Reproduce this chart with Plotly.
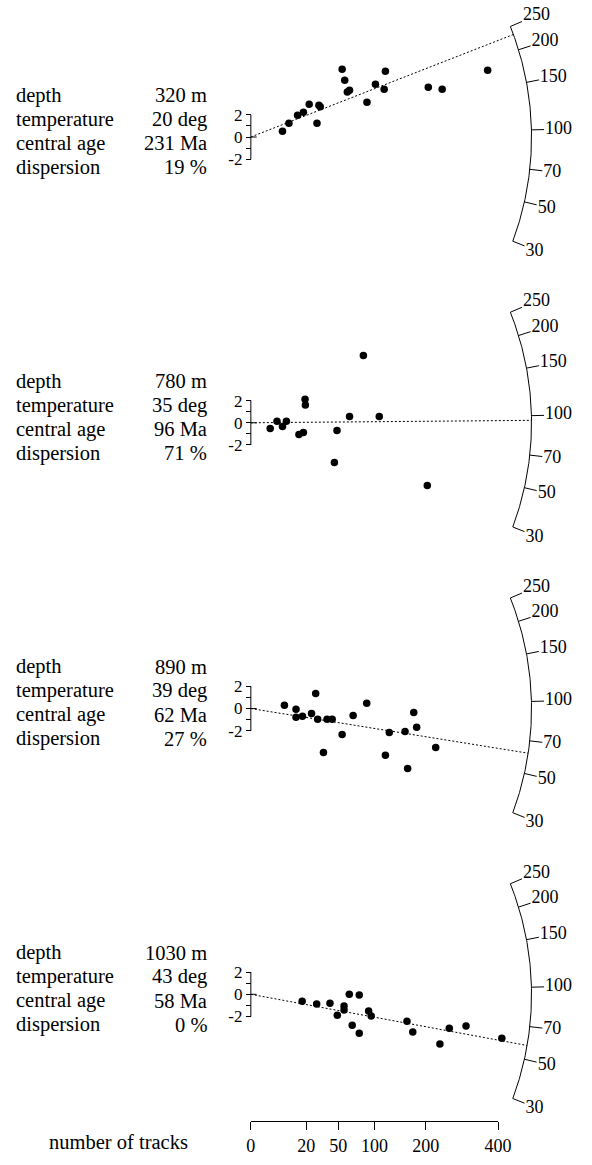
import numpy as np
import plotly.graph_objects as go

# sample summary (text block on the left of each panel)
depth = [320, 780, 890, 1030]
temperature = [20, 35, 39, 43]
central_age = [231, 96, 62, 58]
dispersion = [19, 71, 27, 0]

# single grains: precision (1/sigma) and standardised estimate
precision_1 = [5.12, 6.16, 7.56, 8.50, 9.44, 10.70, 11.01, 11.23, 14.77, 15.19,
               15.61, 15.97, 18.79, 20.16, 21.57, 21.77, 28.71, 30.96, 38.32]
z_1 = [0.51, 1.23, 1.95, 2.23, 2.95, 1.23, 2.86, 2.73, 6.10, 5.11,
       4.05, 4.21, 3.13, 4.75, 4.30, 5.92, 4.48, 4.30, 6.01]

precision_2 = [3.13, 4.23, 5.12, 5.75, 7.78, 8.50, 8.77, 8.82, 13.52, 13.94,
               15.97, 18.21, 20.78, 28.55]
z_2 = [-0.52, 0.14, -0.34, 0.14, -1.06, -0.88, 2.12, 1.60, -3.59, -0.70,
       0.56, 6.05, 0.56, -5.66]

precision_3 = [5.43, 7.31, 7.31, 8.35, 9.82, 10.49, 10.81, 11.75, 12.33, 13.16,
               14.77, 16.55, 18.75, 21.77, 22.40, 24.95, 25.37, 26.36, 26.83, 29.91]
z_3 = [0.30, -0.06, -0.78, -0.69, -0.45, 1.35, -0.96, -3.96, -0.96, -0.96,
       -2.34, -0.63, 0.48, -4.21, -2.16, -2.07, -5.41, -0.36, -1.68, -3.51]

precision_4 = [8.30, 10.65, 12.80, 13.99, 15.08, 15.08, 15.93, 16.40, 17.54, 17.54,
               19.06, 19.47, 25.26, 26.20, 30.59, 32.11, 34.82, 40.61]
z_4 = [-0.63, -0.87, -0.81, -1.89, -1.05, -1.41, 0.00, -2.79, -0.06, -3.51,
       -1.50, -1.95, -2.43, -3.40, -4.48, -3.06, -2.86, -3.96]

precision = [precision_1, precision_2, precision_3, precision_4]
z_values = [z_1, z_2, z_3, z_4]

age_ticks = [30, 50, 70, 100, 150, 200, 250]
track_ticks = [0, 20, 50, 100, 200, 400]
z_ticks = [-2, -1, 0, 1, 2]
z_ticktext = ["-2", "", "0", "", "2"]

# geometry
W, H = 592, 1165
X0_PX = 254          # pixel column of the radial origin
SX = 6.385           # px per precision unit
SY = 11.1            # px per z unit
PANEL_H = 285.77
ORIGIN_TOP = 137
R_ARC = 290
TICK_LEN = 13
LABEL_LIFT = 15
REF_AGE = 94
RATIO = 0.0043
FONT = "Liberation Serif, Times New Roman, Times, serif"


def z_of_age(t):
    return np.arctan(np.sqrt(RATIO * np.asarray(t, dtype=float)))


def arc_angle(t):
    return np.arctan(SY / SX * (z_of_age(t) - z_of_age(REF_AGE)))


def arc_xy(t, r):
    phi = arc_angle(t)
    return r * np.cos(phi) / SX, r * np.sin(phi) / SY


fig = go.Figure()
annotations = []
layout_axes = {}

arc_ages = np.geomspace(min(age_ticks), max(age_ticks), 120)
arc_x, arc_y = arc_xy(arc_ages, R_ARC)

tick_x, tick_y = [], []
for t in age_ticks:
    x1, y1 = arc_xy(t, R_ARC)
    x2, y2 = arc_xy(t, R_ARC + TICK_LEN)
    tick_x += [x1, x2, None]
    tick_y += [y1, y2, None]
phi_ticks = arc_angle(age_ticks)
lab_x = ((R_ARC + TICK_LEN) * np.cos(phi_ticks) + 1) / SX
lab_y = (R_ARC + TICK_LEN + LABEL_LIFT) * np.sin(phi_ticks) / SY

for i in range(4):
    ya = "y" if i == 0 else f"y{i + 1}"
    yname = "yaxis" if i == 0 else f"yaxis{i + 1}"
    common = dict(xaxis="x", yaxis=ya, showlegend=False, hoverinfo="skip")

    # arc and its ticks
    fig.add_trace(go.Scatter(x=arc_x, y=arc_y, mode="lines",
                             line=dict(color="black", width=1), **common))
    fig.add_trace(go.Scatter(x=tick_x, y=tick_y, mode="lines",
                             line=dict(color="black", width=1), **common))
    fig.add_trace(go.Scatter(x=lab_x, y=lab_y, mode="text",
                             text=[str(t) for t in age_ticks],
                             textposition="middle right",
                             textfont=dict(family=FONT, size=18, color="black"),
                             cliponaxis=False, **common))

    # central age line
    cx, cy = arc_xy(central_age[i], R_ARC)
    fig.add_trace(go.Scatter(x=[0, cx], y=[0, cy], mode="lines",
                             line=dict(color="black", width=1, dash="2px,2px"),
                             **common))

    # z-scale bracket (with the short zero mark to the right)
    fig.add_trace(go.Scatter(x=[0, 0, None, 0, 6 / SX],
                             y=[min(z_ticks), max(z_ticks), None, 0, 0], mode="lines",
                             line=dict(color="black", width=1), **common))

    # grains
    fig.add_trace(go.Scatter(x=precision[i], y=z_values[i], mode="markers",
                             marker=dict(color="black", size=7.5), **common))

    top = 1 - i * PANEL_H / H
    layout_axes[yname] = dict(
        domain=[top - PANEL_H / H, top],
        range=[-(PANEL_H - ORIGIN_TOP) / SY, ORIGIN_TOP / SY],
        anchor="free", position=X0_PX / W, side="left",
        tickvals=z_ticks, ticktext=z_ticktext, ticks="outside", ticklen=5,
        tickwidth=1, tickcolor="black",
        tickfont=dict(family=FONT, size=17, color="black"),
        showgrid=False, zeroline=False, showline=False,
    )

    rows = [("depth", f"{depth[i]} m"),
            ("temperature", f"{temperature[i]} deg"),
            ("central age", f"{central_age[i]} Ma"),
            ("dispersion", f"{dispersion[i]} %")]
    for k, (label, value) in enumerate(rows):
        shift = 41.7 - 24 * k
        annotations.append(dict(x=9.5 / W, xref="paper", y=0, yref=ya, yshift=shift,
                                text=label, showarrow=False, xanchor="left",
                                yanchor="middle",
                                font=dict(family=FONT, size=20.5, color="black")))
        annotations.append(dict(x=211 / W, xref="paper", y=0, yref=ya, yshift=shift,
                                text=value, showarrow=False, xanchor="right",
                                yanchor="middle",
                                font=dict(family=FONT, size=20.5, color="black")))

# number-of-tracks scale (precision = 2*sqrt(n))
track_x = [2 * np.sqrt(n) for n in track_ticks]
fig.add_trace(go.Scatter(x=[None], y=[None], xaxis="x5", yaxis="y5",
                         showlegend=False, hoverinfo="skip"))
layout_axes["xaxis5"] = dict(
    domain=[X0_PX / W, (X0_PX + SX * max(track_x)) / W],
    range=[0, max(track_x)], anchor="free", position=(H - 1120.7) / H,
    tickvals=track_x, ticktext=[str(n) for n in track_ticks],
    ticks="outside", ticklen=8.5, tickwidth=1, tickcolor="black",
    showline=True, linecolor="black", linewidth=1,
    tickfont=dict(family=FONT, size=18, color="black"),
    showgrid=False, zeroline=False,
)
layout_axes["yaxis5"] = dict(domain=[0, 0.03], anchor="x5", visible=False)
annotations.append(dict(x=43 / W, xref="paper", y=(H - 1141.7) / H, yref="paper",
                        text="number of tracks", showarrow=False, xanchor="left",
                        yanchor="middle",
                        font=dict(family=FONT, size=20.5, color="black")))

fig.update_layout(
    width=W, height=H,
    margin=dict(l=0, r=0, t=0, b=0),
    paper_bgcolor="white", plot_bgcolor="white",
    xaxis=dict(domain=[0, 1], range=[-X0_PX / SX, (W - X0_PX) / SX],
               visible=False, anchor="y"),
    annotations=annotations,
    **layout_axes,
)

fig.write_html(
    "out.html",
    config={"displayModeBar": False},
    post_script="document.body.style.margin = '0';"
                "document.body.style.overflow = 'hidden';"
                "document.documentElement.style.overflow = 'hidden';",
)
